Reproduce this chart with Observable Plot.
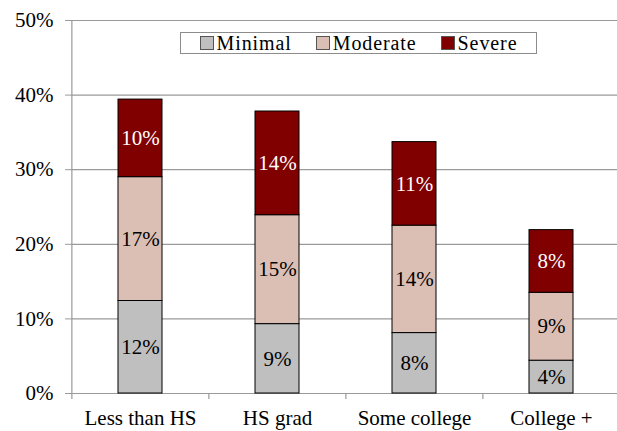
<!DOCTYPE html>
<html>
<head>
<meta charset="utf-8">
<script src="https://cdn.jsdelivr.net/npm/d3@7"></script>
<script src="https://cdn.jsdelivr.net/npm/@observablehq/plot@0.6"></script>
<style>
  body { margin: 0; background: #fff; }
  #wrap { position: relative; width: 617px; height: 431px; }
  #wrap, #wrap svg text { font-family: 'Liberation Serif', Tinos, 'Times New Roman', 'Noto Serif', 'DejaVu Serif', serif; }
  #legend { position: absolute; left: 180px; top: 32px; width: 355px; height: 20px; border: 1px solid #8c8c8c; background: #fff;
            display: flex; align-items: center; justify-content: center; gap: 24px; font-size: 20px; letter-spacing: 0.9px; line-height: 20px; }
  #legend .it { display: flex; align-items: center; gap: 3px; }
  #legend .sw { width: 12px; height: 12px; border: 1px solid #555; display: inline-block; }
</style>
</head>
<body>
<div id="wrap"></div>
<script>
const categories = ["Less than HS", "HS grad", "Some college", "College +"];
const series = ["Minimal", "Moderate", "Severe"];
const minimal  = [12.4, 9.3, 8.1, 4.4];
const moderate = [16.6, 14.6, 14.4, 9.1];
const severe   = [10.4, 13.9, 11.2, 8.4];
const colors = ["#bfbfbf", "#dcbfb4", "#800000"];
const labelColors = ["#000", "#000", "#fff"];
const yTicks = [0, 10, 20, 30, 40, 50];

const values = [minimal, moderate, severe];
const data = [];
categories.forEach((c, i) => series.forEach((s, j) => data.push({category: c, series: s, value: values[j][i], idx: j})));

const W = 617, H = 431, left = 71, right = 620;
const step = (right - left) / categories.length;

const chart = Plot.plot({
  width: W, height: H,
  marginLeft: left, marginRight: 0, marginTop: 20, marginBottom: 38,
  style: {fontSize: "21px", color: "#000", background: "transparent", overflow: "visible"},
  x: {domain: categories, range: [left, right], paddingInner: 0.68, paddingOuter: 0.34, axis: null},
  y: {domain: [0, 50], axis: null},
  color: {domain: series, range: colors},
  marks: [
    Plot.ruleY(yTicks, {stroke: "#9a9a9a", strokeWidth: 1.2}),
    Plot.axisY({ticks: yTicks, tickSize: 6, tickPadding: 12, stroke: "#9a9a9a", tickFormat: d => d + "%", fontSize: 21, letterSpacing: 0.4, label: null}),
    Plot.ruleX([0], {x: () => categories[0], y1: 0, y2: 50, dx: -step / 2, stroke: "#9a9a9a", strokeWidth: 1.2}),
    Plot.ruleX(categories, {x: d => d, y1: 0, y2: -0.8, dx: -step / 2, stroke: "#9a9a9a", strokeWidth: 1.2}),
    Plot.barY(data, {x: "category", y: "value", fill: "series", stroke: "#000", strokeWidth: 1}),
    Plot.text(data, Plot.stackY({x: "category", y: "value", z: "series", text: d => Math.round(d.value) + "%",
      fill: d => labelColors[d.idx], fontSize: 21, letterSpacing: 0.4})),
    Plot.axisX({tickSize: 0, tickPadding: 17, fontSize: 21, letterSpacing: 1.2, label: null})
  ]
});
const wrap = document.getElementById("wrap");
wrap.appendChild(chart);

const legend = document.createElement("div");
legend.id = "legend";
series.forEach((s, j) => {
  const it = document.createElement("span");
  it.className = "it";
  const sw = document.createElement("span");
  sw.className = "sw";
  sw.style.background = colors[j];
  it.appendChild(sw);
  it.appendChild(document.createTextNode(s));
  legend.appendChild(it);
});
wrap.appendChild(legend);
</script>
</body>
</html>
